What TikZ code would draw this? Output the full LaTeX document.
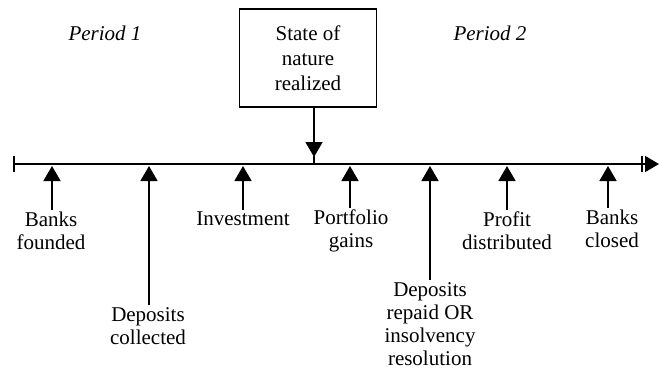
\documentclass[tikz,border=0pt]{standalone}
\usepackage{fontspec}
\setmainfont{Liberation Serif}
\usetikzlibrary{arrows.meta}
\begin{document}
\begin{tikzpicture}[x=1pt,y=-1pt,
  every node/.style={font=\fontsize{21}{23}\selectfont, align=center, inner sep=2pt},
  axisline/.style={line width=1.7pt},
  upar/.style={line width=1.7pt, -{Triangle[length=15pt,width=17pt]}, shorten >=2pt},
  ticker/.style={line width=1.7pt},
  box/.style={draw, line width=1.2pt, minimum width=137pt, minimum height=98pt, font=\fontsize{21}{25}\selectfont}
]
\useasboundingbox (0,0) rectangle (660,378);
% timeline
\coordinate (L) at (14,164);
\coordinate (R) at (659,164);
\coordinate (RT) at (642,164);
\coordinate (S) at (314,164);
\draw[axisline, -{Triangle[length=14pt,width=16pt]}] (L) -- (R);
\draw[ticker] ([yshift=-8pt]L) -- ([yshift=8pt]L);
\draw[ticker] ([yshift=-8pt]RT) -- ([yshift=8pt]RT);
\draw[ticker] (S) -- ([yshift=8pt]S);
% period labels
\node[font=\fontsize{21}{23}\selectfont\itshape] (p1) at (105,33) {Period 1};
\node[font=\fontsize{21}{23}\selectfont\itshape] (p2) at (490,33) {Period 2};
% state of nature
\node[box] (box) at (308,58) {State of\\nature\\realized};
\draw[line width=1.7pt, -{Triangle[length=15pt,width=17pt]}, shorten >=7pt] (box.south -| S) -- (S);
% event coordinates on the line
\coordinate (e1) at (52,164);
\coordinate (e2) at (149,164);
\coordinate (e3) at (243,164);
\coordinate (e4) at (350,164);
\coordinate (e5) at (430,164);
\coordinate (e6) at (507,164);
\coordinate (e7) at (608,164);
% labels
\node (n1) at (51,231) {Banks\\founded};
\node (n2) at (148,326) {Deposits\\collected};
\node (n3) at (243,219) {Investment};
\node (n4) at (351,231) {Portfolio\\gains};
\node (n5) at (430,324) {Deposits\\repaid OR\\insolvency\\resolution};
\node (n6) at (507,231) {Profit\\distributed};
\node (n7) at (612,229) {Banks\\closed};
% arrows
\draw[upar] (n1.north -| e1) -- (e1);
\draw[upar] (n2.north -| e2) -- (e2);
\draw[upar] (n3.north -| e3) -- (e3);
\draw[upar] (n4.north -| e4) -- (e4);
\draw[upar] (n5.north -| e5) -- (e5);
\draw[upar] (n6.north -| e6) -- (e6);
\draw[upar] (n7.north -| e7) -- (e7);
\end{tikzpicture}
\end{document}
